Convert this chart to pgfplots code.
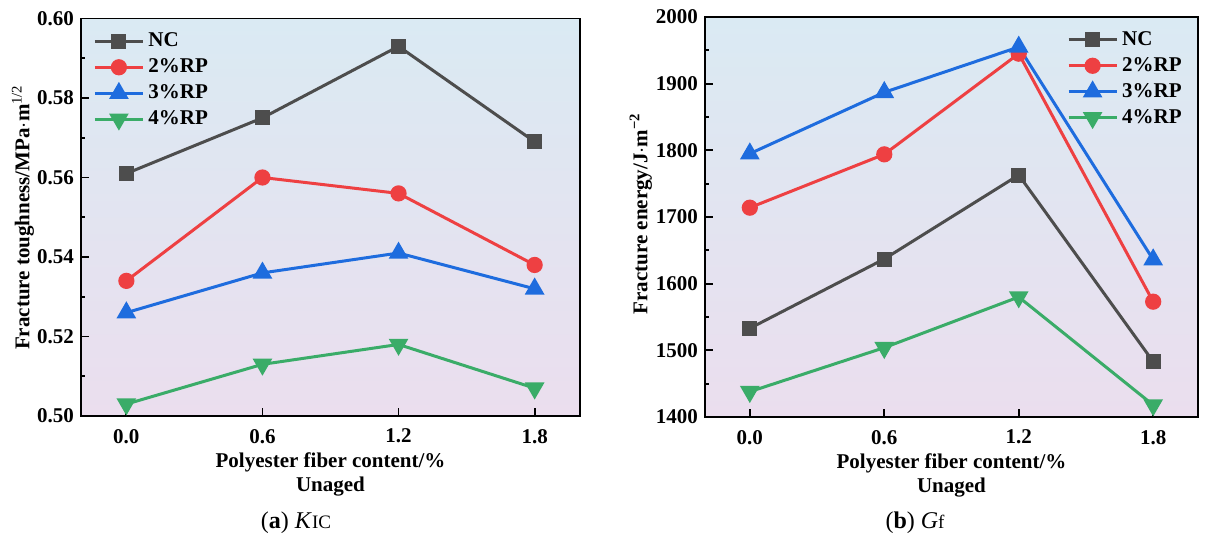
\documentclass[border=0pt]{standalone}
\usepackage{pgfplots}
\pgfplotsset{compat=1.18}
\usepackage{fontspec}
\setmainfont{Liberation Serif}
\definecolor{cNC}{RGB}{77,77,77}
\definecolor{cR2}{RGB}{238,64,66}
\definecolor{cR3}{RGB}{30,108,222}
\definecolor{cR4}{RGB}{58,172,104}
\definecolor{bgtop}{RGB}{218,234,243}
\definecolor{bgbot}{RGB}{235,222,238}
\pgfplotsset{
  common/.style={
    scale only axis,
    anchor=south west,
    xmin=-0.2, xmax=2.0,
    xtick={0,0.6,1.2,1.8},
    xticklabels={0.0,0.6,1.2,1.8},
    tick align=inside,
    xtick pos=bottom, ytick pos=left,
    minor y tick num=1,
    major tick length=4pt, minor tick length=2pt,
    every tick/.style={line width=0.9pt, black},
    axis line style={line width=0.9pt},
    axis background/.style={top color=bgtop, bottom color=bgbot},
    /pgf/number format/assume math mode=true,
    /pgf/number format/1000 sep={},
    ticklabel style={font=\fontsize{10.5}{12}\selectfont\bfseries},
    label style={font=\fontsize{10.5}{12}\selectfont\bfseries},
    xlabel style={at={(rel axis cs:0.5,0)}, anchor=north, yshift=-15pt, align=center},
    xticklabel style={yshift=-3pt},
    legend cell align=left,
    legend image code/.code={\draw[mark repeat=2,mark phase=2,#1] plot coordinates {(0pt,0pt)(12pt,0pt)(24pt,0pt)};},
    legend style={draw=none, fill=none, font=\fontsize{10.5}{12}\selectfont\bfseries, row sep=0.5pt},
    every axis plot/.append style={line width=1.5pt},
  },
  sNC/.style={cNC, mark=square*, mark size=3pt, mark options={fill=cNC}},
  sR2/.style={cR2, mark=*, mark size=3.3pt, mark options={fill=cR2}},
  sR3/.style={cR3, mark=triangle*, mark size=4.2pt, mark options={fill=cR3}},
  sR4/.style={cR4, mark=triangle*, mark size=4.2pt, mark options={fill=cR4, rotate=180}},
}
\begin{document}
\begin{tikzpicture}
\useasboundingbox (0pt,0pt) rectangle (605pt,273.5pt);
\begin{axis}[common,
  at={(40.5pt,65.5pt)}, width=249.5pt, height=198.75pt,
  ymin=0.50, ymax=0.60, ytick={0.50,0.52,0.54,0.56,0.58,0.60},
  yticklabel style={/pgf/number format/.cd, fixed, fixed zerofill, precision=2},
  xlabel={Polyester fiber content/\%\\Unaged},
  ylabel={Fracture toughness/MPa$\cdot$m\textsuperscript{\mdseries 1/2}},
  ylabel style={at={(axis cs:-0.456,0.55)}, anchor=center},
  legend style={at={(rel axis cs:0,1)}, anchor=north west, xshift=3pt, yshift=-3pt},
]
\addplot[sNC] coordinates {(0,0.561) (0.6,0.575) (1.2,0.593) (1.8,0.569)};
\addplot[sR2] coordinates {(0,0.534) (0.6,0.560) (1.2,0.556) (1.8,0.538)};
\addplot[sR3] coordinates {(0,0.526) (0.6,0.536) (1.2,0.541) (1.8,0.532)};
\addplot[sR4] coordinates {(0,0.503) (0.6,0.513) (1.2,0.518) (1.8,0.507)};
\legend{NC,2\%RP,3\%RP,4\%RP}
\end{axis}
\begin{axis}[common,
  at={(352.5pt,65pt)}, width=246.5pt, height=200pt,
  ymin=1400, ymax=2000, ytick={1400,1500,1600,1700,1800,1900,2000},
  xlabel={Polyester fiber content/\%\\Unaged},
  ylabel={Fracture energy/J$\cdot$m\textsuperscript{−2}},
  ylabel style={at={(axis cs:-0.486,1705)}, anchor=center},
  legend style={at={(rel axis cs:1,1)}, anchor=north east, xshift=-3pt, yshift=-3pt},
]
\addplot[sNC] coordinates {(0,1533) (0.6,1637) (1.2,1763) (1.8,1483)};
\addplot[sR2] coordinates {(0,1714) (0.6,1794) (1.2,1945) (1.8,1573)};
\addplot[sR3] coordinates {(0,1795) (0.6,1887) (1.2,1955) (1.8,1636)};
\addplot[sR4] coordinates {(0,1438) (0.6,1504) (1.2,1580) (1.8,1418)};
\legend{NC,2\%RP,3\%RP,4\%RP}
\end{axis}
\node[font=\fontsize{12}{14}\selectfont] at (148pt,12pt) {(\textbf{a}) \textit{K}{\fontsize{9.5}{11}\selectfont IC}};
\node[font=\fontsize{12}{14}\selectfont] at (457.5pt,12pt) {(\textbf{b}) \textit{G}{\fontsize{9.5}{11}\selectfont f}};
\end{tikzpicture}
\end{document}
